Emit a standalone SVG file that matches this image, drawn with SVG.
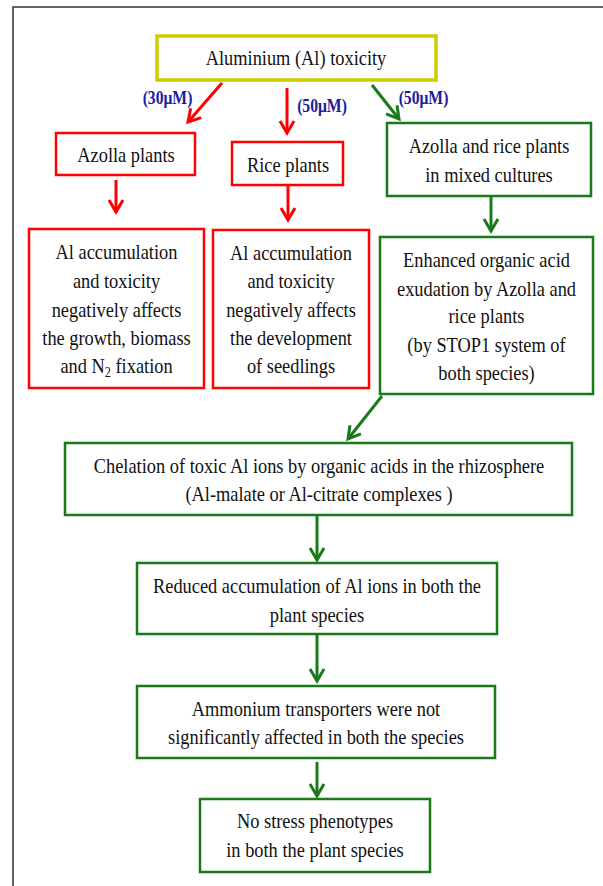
<svg xmlns="http://www.w3.org/2000/svg" width="603" height="886" viewBox="0 0 603 886">
<style>
.t{font-family:"Liberation Serif","Times New Roman",serif;font-size:21px;fill:#111;text-anchor:middle}
.lb{font-family:"Liberation Serif","Times New Roman",serif;font-size:18px;font-weight:bold;fill:#1c1c9c;text-anchor:middle}
.r{fill:#fff;stroke:#ff0000;stroke-width:2.5}
.g{fill:#fff;stroke:#1a7a1a;stroke-width:2.5}
.y{fill:#fff;stroke:#cccc00;stroke-width:3.5}
.cr{stroke:#ff0000;stroke-width:3;fill:none}
.cg{stroke:#1a7a1a;stroke-width:3;fill:none}
</style>
<defs>
<marker id="ar" viewBox="-16 -10 20 20" refX="0" refY="0" markerWidth="20" markerHeight="20" orient="auto" markerUnits="userSpaceOnUse">
<path d="M-12,-7 L0,0 L-12,7" fill="none" stroke="#ff0000" stroke-width="3"/>
</marker>
<marker id="ag" viewBox="-16 -10 20 20" refX="0" refY="0" markerWidth="20" markerHeight="20" orient="auto" markerUnits="userSpaceOnUse">
<path d="M-12,-7 L0,0 L-12,7" fill="none" stroke="#1a7a1a" stroke-width="3"/>
</marker>
</defs>
<rect x="0" y="0" width="603" height="886" fill="#fff"/>
<path d="M13,886 V7 H603" fill="none" stroke="#333" stroke-width="1.5"/>

<g id="connectors">
<line class="cr" x1="222" y1="83" x2="188" y2="122" marker-end="url(#ar)"/>
<line class="cr" x1="287" y1="88" x2="287" y2="133" marker-end="url(#ar)"/>
<line class="cg" x1="372" y1="85" x2="399" y2="119" marker-end="url(#ag)"/>
<line class="cr" x1="116" y1="180" x2="116" y2="212" marker-end="url(#ar)"/>
<line class="cr" x1="288" y1="186" x2="288" y2="220" marker-end="url(#ar)"/>
<line class="cg" x1="491" y1="197" x2="491" y2="231" marker-end="url(#ag)"/>
<line class="cg" x1="382" y1="396" x2="348" y2="439" marker-end="url(#ag)"/>
<line class="cg" x1="317" y1="516" x2="317" y2="560" marker-end="url(#ag)"/>
<line class="cg" x1="317" y1="635" x2="317" y2="681" marker-end="url(#ag)"/>
<line class="cg" x1="317" y1="762" x2="317" y2="796" marker-end="url(#ag)"/>
<text class="lb" transform="translate(167.5,104) scale(0.87,1)">(30μM)</text>
<text class="lb" transform="translate(322,112) scale(0.87,1)">(50μM)</text>
<text class="lb" transform="translate(423.5,104) scale(0.87,1)">(50μM)</text>
</g>

<g id="al-toxicity">
<rect class="y" x="157" y="36" width="279" height="44"/>
<text class="t" transform="translate(296,65) scale(0.875,1)">Aluminium (Al) toxicity</text>
</g>

<g id="azolla">
<rect class="r" x="56" y="133" width="139" height="42"/>
<text class="t" transform="translate(126,162) scale(0.875,1)">Azolla plants</text>
</g>

<g id="rice">
<rect class="r" x="232" y="142" width="111" height="43"/>
<text class="t" transform="translate(288,172) scale(0.875,1)">Rice plants</text>
</g>

<g id="mixed">
<rect class="g" x="387" y="123" width="204" height="73"/>
<text class="t" transform="translate(489,153) scale(0.875,1)">Azolla and rice plants</text>
<text class="t" transform="translate(489,182) scale(0.875,1)">in mixed cultures</text>
</g>

<g id="azolla-effect">
<rect class="r" x="29" y="229" width="175" height="159"/>
<text class="t" transform="translate(116.5,259) scale(0.875,1)">Al accumulation</text>
<text class="t" transform="translate(116.5,288) scale(0.875,1)">and toxicity</text>
<text class="t" transform="translate(116.5,317) scale(0.875,1)">negatively affects</text>
<text class="t" transform="translate(116.5,345) scale(0.875,1)">the growth, biomass</text>
<text class="t" transform="translate(116.5,373) scale(0.875,1)">and N<tspan font-size="14" dy="4">2</tspan><tspan dy="-4"> fixation</tspan></text>
</g>

<g id="rice-effect">
<rect class="r" x="213" y="230" width="156" height="158"/>
<text class="t" transform="translate(291,260) scale(0.875,1)">Al accumulation</text>
<text class="t" transform="translate(291,288) scale(0.875,1)">and toxicity</text>
<text class="t" transform="translate(291,317) scale(0.875,1)">negatively affects</text>
<text class="t" transform="translate(291,345) scale(0.875,1)">the development</text>
<text class="t" transform="translate(291,373) scale(0.875,1)">of seedlings</text>
</g>

<g id="enhanced">
<rect class="g" x="380" y="237" width="213" height="157"/>
<text class="t" transform="translate(486.5,267) scale(0.875,1)">Enhanced organic acid</text>
<text class="t" transform="translate(486.5,296) scale(0.875,1)">exudation by Azolla and</text>
<text class="t" transform="translate(486.5,323) scale(0.875,1)">rice plants</text>
<text class="t" transform="translate(486.5,352) scale(0.875,1)">(by STOP1 system of</text>
<text class="t" transform="translate(486.5,380) scale(0.875,1)">both species)</text>
</g>

<g id="chelation">
<rect class="g" x="65" y="443" width="507" height="72"/>
<text class="t" transform="translate(319,473) scale(0.875,1)">Chelation of toxic Al ions by organic acids in the rhizosphere</text>
<text class="t" transform="translate(319,501) scale(0.875,1)">(Al-malate or Al-citrate complexes )</text>
</g>

<g id="reduced">
<rect class="g" x="137" y="563" width="360" height="71"/>
<text class="t" transform="translate(317,593) scale(0.875,1)">Reduced accumulation of Al ions in both the</text>
<text class="t" transform="translate(317,622) scale(0.875,1)">plant species</text>
</g>

<g id="ammonium">
<rect class="g" x="137" y="686" width="358" height="72"/>
<text class="t" transform="translate(316,716) scale(0.875,1)">Ammonium transporters were not</text>
<text class="t" transform="translate(316,744) scale(0.875,1)">significantly affected in both the species</text>
</g>

<g id="no-stress">
<rect class="g" x="200" y="799" width="230" height="73"/>
<text class="t" transform="translate(315,828) scale(0.875,1)">No stress phenotypes</text>
<text class="t" transform="translate(315,857) scale(0.875,1)">in both the plant species</text>
</g>
</svg>
